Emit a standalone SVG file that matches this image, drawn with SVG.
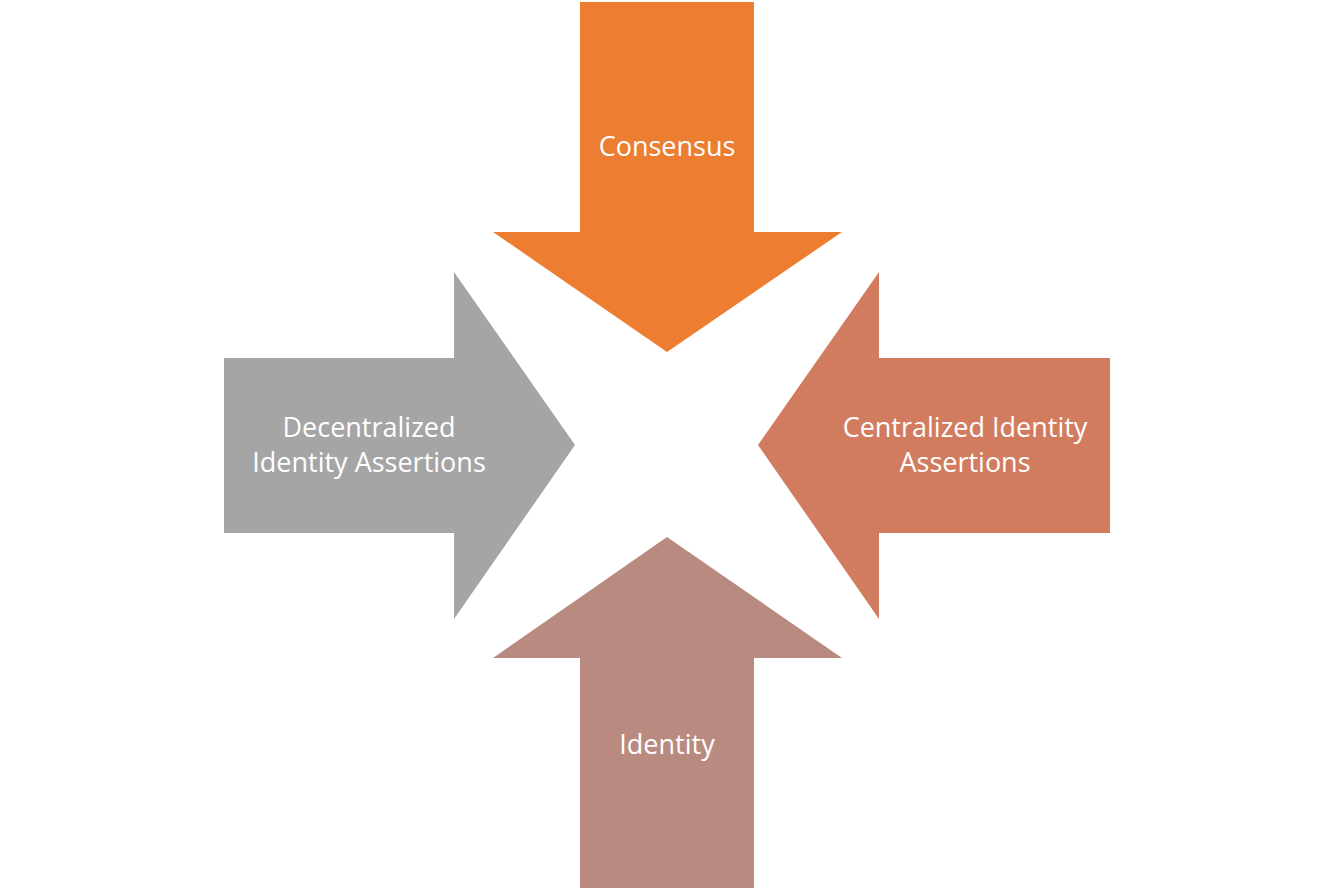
<svg xmlns="http://www.w3.org/2000/svg" width="1334" height="891" viewBox="0 0 1334 891">
<style>
.lbl{font-family:"Open Sans","Liberation Sans",sans-serif;font-size:27px;fill:#FFFFFF;text-anchor:middle}
</style>
<rect width="1334" height="891" fill="#FFFFFF"/>
<g id="connectors"></g>
<g id="consensus">
<polygon points="580,2 754,2 754,232 842,232 667,352 493,232 580,232" fill="#ED7D31"/>
<text class="lbl" x="667" y="156">Consensus</text>
</g>
<g id="decentralized">
<polygon points="224,358 454,358 454,272 575,445 454,619 454,533 224,533" fill="#A5A5A5"/>
<text class="lbl" x="369" y="437">Decentralized</text>
<text class="lbl" x="369" y="472">Identity Assertions</text>
</g>
<g id="centralized">
<polygon points="1110,358 879,358 879,272 758,445 879,619 879,533 1110,533" fill="#D17C5F"/>
<text class="lbl" x="965" y="437">Centralized Identity</text>
<text class="lbl" x="965" y="472">Assertions</text>
</g>
<g id="identity">
<polygon points="580,888 754,888 754,658 842,658 667,537 493,658 580,658" fill="#B98A80"/>
<text class="lbl" x="667" y="754">Identity</text>
</g>
</svg>
